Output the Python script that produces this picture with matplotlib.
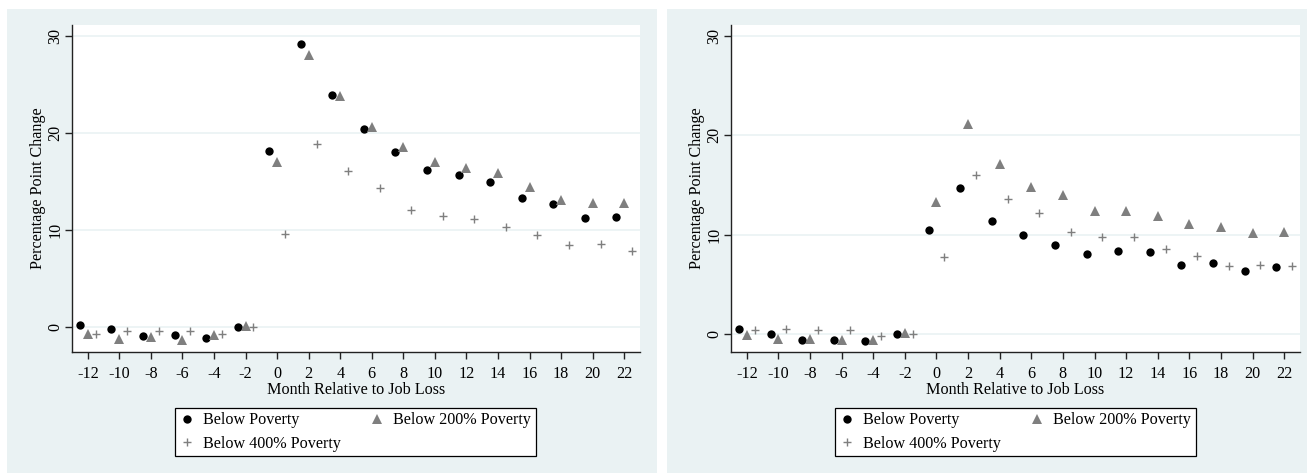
import matplotlib
matplotlib.use("Agg")
import matplotlib.pyplot as plt
from matplotlib.patches import Rectangle
import numpy as np

# Months relative to job loss (event time)
months = np.arange(-12, 23, 2)

# Panel A: percentage point change
a_below_pov = [0.2, -0.2, -0.9, -0.8, -1.1, 0.0, 18.1, 29.1, 23.9, 20.4,
               18.0, 16.2, 15.7, 14.9, 13.3, 12.7, 11.2, 11.3]
a_below_200 = [-0.7, -1.2, -1.0, -1.3, -0.8, 0.1, 17.0, 28.0, 23.8, 20.6,
               18.5, 17.0, 16.4, 15.9, 14.4, 13.1, 12.8, 12.8]
a_below_400 = [-0.7, -0.4, -0.4, -0.4, -0.7, 0.0, 9.6, 18.8, 16.1, 14.3,
               12.0, 11.4, 11.1, 10.3, 9.5, 8.4, 8.5, 7.8]

# Panel B: percentage point change
b_below_pov = [0.5, 0.0, -0.6, -0.6, -0.7, 0.0, 10.5, 14.7, 11.4, 10.0,
               9.0, 8.1, 8.4, 8.3, 7.0, 7.2, 6.3, 6.8]
b_below_200 = [-0.1, -0.5, -0.5, -0.6, -0.6, 0.1, 13.3, 21.1, 17.1, 14.8,
               14.0, 12.4, 12.4, 11.9, 11.1, 10.8, 10.2, 10.3]
b_below_400 = [0.4, 0.5, 0.4, 0.4, -0.2, 0.0, 7.8, 16.0, 13.6, 12.2,
               10.3, 9.8, 9.8, 8.6, 7.9, 6.9, 7.0, 6.9]

series_labels = ["Below Poverty", "Below 200% Poverty", "Below 400% Poverty"]
y_ticks = [0, 10, 20, 30]
x_ticks = list(range(-12, 23, 2))

BG = "#EAF2F3"
GRAY = "#7f7f7f"
FONT = ["Liberation Serif", "DejaVu Serif"]
FS = 11.6

plt.rcParams["font.family"] = FONT

W, H = 1307, 474
fig = plt.figure(figsize=(W / 100, H / 100), dpi=100)
fig.patch.set_facecolor("white")


def fx(px):
    return px / W


def fy(py):
    return 1 - py / H


# light graph-region panels behind each plot
for x0, x1 in [(7, 657), (667, 1307)]:
    fig.patches.append(Rectangle((fx(x0), fy(473)), fx(x1 - x0), (473 - 9) / H,
                                 transform=fig.transFigure, facecolor=BG,
                                 edgecolor="none", zorder=-5))


def draw_panel(left_px, ylo, pov, p200, p400, legend_cx):
    ax = fig.add_axes([fx(left_px), fy(352), fx(568 if left_px < 700 else 569), 327 / H])
    ax.set_facecolor("white")
    m = np.asarray(months, dtype=float)
    h1, = ax.plot(m - 0.5, pov, linestyle="none", marker="o", markersize=6.0,
                  color="black", markeredgewidth=0, label=series_labels[0], zorder=3)
    h2, = ax.plot(m, p200, linestyle="none", marker="^", markersize=7.4,
                  color=GRAY, markeredgewidth=0, label=series_labels[1], zorder=4)
    h3, = ax.plot(m + 0.5, p400, linestyle="none", marker="+", markersize=5.6,
                  color=GRAY, markeredgewidth=1.0, label=series_labels[2], zorder=5)

    ax.set_xlim(-13, 23)
    ax.set_ylim(ylo, 31.1)
    ax.set_xticks(x_ticks)
    ax.set_yticks(y_ticks)
    ax.set_xticklabels([str(t) for t in x_ticks], fontsize=FS)
    ax.set_yticklabels([str(t) for t in y_ticks], fontsize=FS, rotation=90, va="center")
    ax.grid(axis="y", color=BG, linewidth=1.2, zorder=1)
    ax.set_axisbelow(True)
    for s in ["top", "right"]:
        ax.spines[s].set_visible(False)
    for s in ["left", "bottom"]:
        ax.spines[s].set_color("#222222")
        ax.spines[s].set_linewidth(1.0)
    ax.tick_params(axis="both", direction="out", length=5, width=1.0, color="#222222",
                   labelcolor="black")
    ax.tick_params(axis="y", pad=1)
    ax.tick_params(axis="x", pad=5)
    ax.set_ylabel("Percentage Point Change", fontsize=FS, labelpad=1)
    ax.set_xlabel("Month Relative to Job Loss", fontsize=FS, labelpad=0)

    leg = fig.legend([h1, h3, h2], [series_labels[0], series_labels[2], series_labels[1]],
                     ncol=2, loc="center", bbox_to_anchor=(fx(legend_cx), fy(432)),
                     bbox_transform=fig.transFigure, frameon=True, fancybox=False,
                     framealpha=1.0, fontsize=FS, handlelength=0.8, handletextpad=0.6,
                     columnspacing=1.85, borderpad=0.3, labelspacing=0.45)
    fr = leg.get_frame()
    fr.set_edgecolor("black")
    fr.set_linewidth(0.9)
    fr.set_facecolor("white")
    return ax


draw_panel(72, -2.58, a_below_pov, a_below_200, a_below_400, 355.5)
draw_panel(731, -1.8, b_below_pov, b_below_200, b_below_400, 1015.5)

fig.savefig("out.png", dpi=100, facecolor="white")
